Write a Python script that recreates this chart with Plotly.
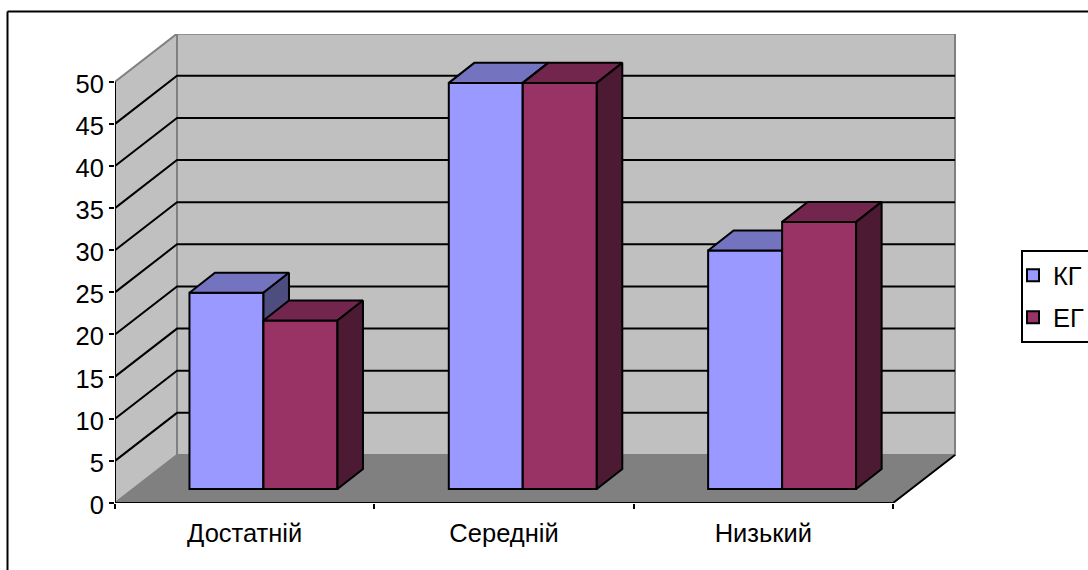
import plotly.graph_objects as go

categories = ["Достатній", "Середній", "Низький"]
series_names = ["КГ", "ЕГ"]
kg_values = [23.3, 48.2, 28.3]
eg_values = [20.0, 48.2, 31.7]
y_ticks = [0, 5, 10, 15, 20, 25, 30, 35, 40, 45, 50]

W, H = 1088, 570
L, R, T, B = 115.0, 956.0, 34.0, 502.7
PX_X = (893.0 - 115.0) / 3
PX_Y = (502.7 - 81.7) / 50
n = len(categories)

def dxp(p): return p / PX_X
def dyp(p): return p / PX_Y
def paper_x(p): return (p - L) / (R - L)
def paper_y(p): return (B - p) / (B - T)

wall_dx, wall_dy = dxp(62), dyp(48)
shift_x, shift_y = dxp(18.8), dyp(14)
bar_w = dxp(74)
depth_x, depth_y = dxp(25.5), dyp(20)

fig = go.Figure()

def poly(xs, ys, fill, line, lw, axes=("x", "y")):
    fig.add_trace(go.Scatter(
        x=xs + xs[:1], y=ys + ys[:1], mode="lines", fill="toself", fillcolor=fill,
        line=dict(color=line, width=lw), hoverinfo="skip", showlegend=False,
        xaxis=axes[0], yaxis=axes[1]))

def path(xs, ys, color, lw, axes=("x", "y")):
    fig.add_trace(go.Scatter(
        x=xs, y=ys, mode="lines", line=dict(color=color, width=lw),
        hoverinfo="skip", showlegend=False, cliponaxis=False,
        xaxis=axes[0], yaxis=axes[1]))

top_v = y_ticks[-1]
# back wall, side wall, floor
poly([wall_dx, n + wall_dx, n + wall_dx, wall_dx], [wall_dy, wall_dy, top_v + wall_dy, top_v + wall_dy], "#C0C0C0", "#808080", 2)
poly([0, wall_dx, wall_dx, 0], [0, wall_dy, top_v + wall_dy, top_v], "#C0C0C0", "#808080", 2)
poly([0, n, n + wall_dx, wall_dx], [0, 0, wall_dy, wall_dy], "#808080", "#808080", 1)
# gridlines
for v in y_ticks[1:-1]:
    path([0, wall_dx, n + wall_dx], [v, v + wall_dy, v + wall_dy], "#000000", 2)
# axis lines
path([0, 0], [0, top_v], "#000000", 2)
path([n + wall_dx, n, 0], [wall_dy, 0, 0], "#000000", 2)

def bars(name, values, offset, color, top_c, side_c, axes):
    xc = [i + 0.5 + shift_x + offset for i in range(n)]
    fig.add_trace(go.Bar(
        x=xc, y=values, base=[shift_y] * n, width=bar_w, name=name,
        marker=dict(color=color, line=dict(color="#000000", width=2)),
        legendgroup=name, xaxis=axes[0], yaxis=axes[1]))
    for xm, v in zip(xc, values):
        x0, x1 = xm - bar_w / 2, xm + bar_w / 2
        y0, y1 = shift_y, shift_y + v
        poly([x0, x1, x1 + depth_x, x0 + depth_x], [y1, y1, y1 + depth_y, y1 + depth_y], top_c, "#000000", 2, axes)
        poly([x1, x1 + depth_x, x1 + depth_x, x1], [y0, y0 + depth_y, y1 + depth_y, y1], side_c, "#000000", 2, axes)

bars(series_names[0], kg_values, -bar_w / 2, "#9999FF", "#7373BF", "#4D4D80", ("x2", "y2"))
bars(series_names[1], eg_values, bar_w / 2, "#993366", "#73264D", "#4D1A33", ("x3", "y3"))

font = dict(family="Liberation Sans, Arial, sans-serif", size=25.5, color="#000000")
x_range = [0, (R - L) / PX_X]
y_range = [0, (B - T) / PX_Y]

fig.update_layout(
    width=W, height=H, autosize=False,
    margin=dict(l=L, r=W - R, t=T, b=H - B, pad=0, autoexpand=False),
    paper_bgcolor="#FFFFFF", plot_bgcolor="rgba(0,0,0,0)",
    barmode="overlay", font=font,
    xaxis=dict(range=x_range, tickvals=list(range(n + 1)), ticktext=[""] * (n + 1),
               ticks="outside", ticklen=5, tickwidth=2, tickcolor="#000000",
               showgrid=False, zeroline=False, showline=False),
    yaxis=dict(range=y_range, tickvals=y_ticks, ticks="outside", ticklen=5, tickwidth=2,
               tickcolor="#000000", showgrid=False, zeroline=False, showline=False,
               tickfont=font, ticklabelshift=2),
    xaxis2=dict(range=x_range, overlaying="x", anchor="y2", side="bottom",
                tickvals=[i + 0.5 for i in range(n)], ticktext=categories,
                ticks="outside", ticklen=7, tickcolor="rgba(0,0,0,0)",
                showgrid=False, zeroline=False, showline=False, tickfont=font),
    yaxis2=dict(range=y_range, overlaying="y", anchor="x2", visible=False),
    xaxis3=dict(range=x_range, overlaying="x", anchor="y3", visible=False),
    yaxis3=dict(range=y_range, overlaying="y", anchor="x3", visible=False),
    legend=dict(x=paper_x(1021), xanchor="left", y=paper_y(250), yanchor="top",
                bordercolor="#000000", borderwidth=2, bgcolor="#FFFFFF",
                font=font, indentation=-10, tracegroupgap=6, traceorder="grouped"),
    shapes=[
        dict(type="line", xref="paper", yref="paper", x0=paper_x(7.5), x1=paper_x(7.5),
             y0=paper_y(11.5), y1=paper_y(570), line=dict(color="#000000", width=2)),
        dict(type="line", xref="paper", yref="paper", x0=paper_x(7.5), x1=paper_x(1088),
             y0=paper_y(11.5), y1=paper_y(11.5), line=dict(color="#000000", width=2)),
    ],
)

fig.write_html("out.html", config=dict(displayModeBar=False),
               post_script="document.body.style.margin='0';")
